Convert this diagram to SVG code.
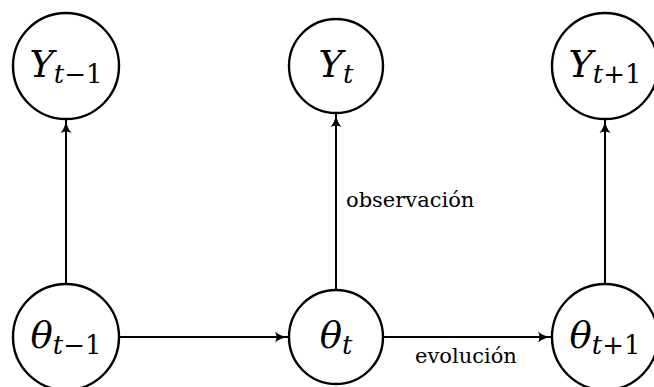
<svg xmlns="http://www.w3.org/2000/svg" width="654" height="387" viewBox="0 0 654 387">
<defs>
<marker id="arr" viewBox="0 0 14 12" refX="13" refY="6" markerWidth="14" markerHeight="12" markerUnits="userSpaceOnUse" orient="auto">
<path d="M0,0.5 Q5,5 13,6 Q5,7 0,11.5 Q3,6 0,0.5 Z" fill="#000"/>
</marker>
</defs>
<style>
.node circle{fill:#fff;stroke:#000;stroke-width:2.4}
text{font-family:'DejaVu Serif',serif;fill:#000}
.m{font-style:italic;font-size:37px}
.s{font-size:26px}
.n{font-style:normal}
.lbl{font-size:21px}
.edges line{stroke:#000;stroke-width:2}
</style>
<g id="edges" class="edges">
<line x1="66" y1="284" x2="66" y2="120" marker-end="url(#arr)"/>
<line x1="336" y1="290" x2="336" y2="114" marker-end="url(#arr)"/>
<line x1="605" y1="284" x2="605" y2="120" marker-end="url(#arr)"/>
<line x1="119" y1="337" x2="288" y2="337" marker-end="url(#arr)"/>
<line x1="383" y1="337" x2="551" y2="337" marker-end="url(#arr)"/>
</g>
<g id="Ytm1" class="node"><circle cx="66" cy="66" r="53"/><text class="m" x="66" y="77" text-anchor="middle">Y<tspan class="s" dy="6">t</tspan><tspan class="s n">−1</tspan></text></g>
<g id="Yt" class="node"><circle cx="336" cy="66" r="47"/><text class="m" x="336" y="77" text-anchor="middle">Y<tspan class="s" dy="6">t</tspan></text></g>
<g id="Ytp1" class="node"><circle cx="605" cy="66" r="53"/><text class="m" x="605" y="77" text-anchor="middle">Y<tspan class="s" dy="6">t</tspan><tspan class="s n">+1</tspan></text></g>
<g id="thtm1" class="node"><circle cx="66" cy="337" r="53"/><text class="m" x="66" y="348" text-anchor="middle">θ<tspan class="s" dy="6">t</tspan><tspan class="s n">−1</tspan></text></g>
<g id="tht" class="node"><circle cx="336" cy="337" r="47"/><text class="m" x="336" y="348" text-anchor="middle">θ<tspan class="s" dy="6">t</tspan></text></g>
<g id="thtp1" class="node"><circle cx="605" cy="337" r="53"/><text class="m" x="605" y="348" text-anchor="middle">θ<tspan class="s" dy="6">t</tspan><tspan class="s n">+1</tspan></text></g>
<text class="lbl" x="346" y="207">observación</text>
<text class="lbl" x="415" y="363">evolución</text>
</svg>
